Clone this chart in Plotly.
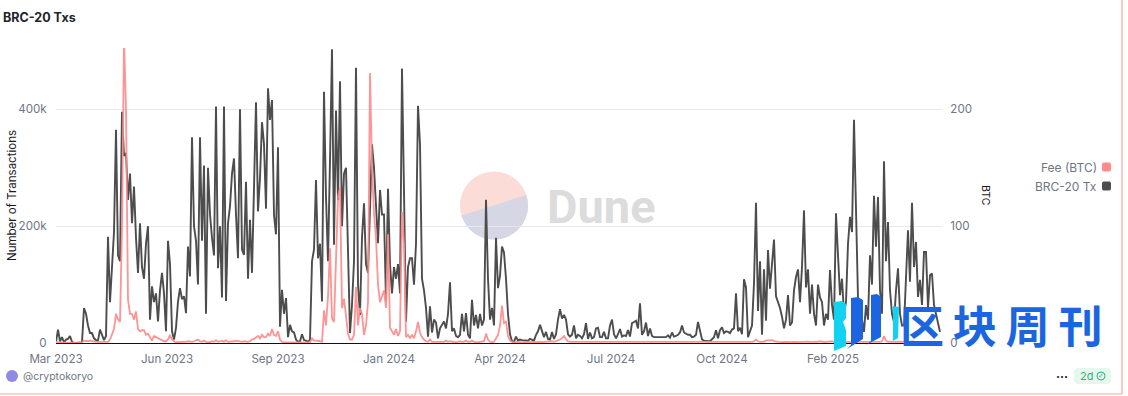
import plotly.graph_objects as go
import numpy as np

# Values. One reading every fixed step along the axis.
tx_2023_spring = [2,23,3,10,1,6,7,12,2,0,0,0,0,1,
    60,50,30,17,17,8,5,4,23,14,5,12,
    182,70,135,190,365,150,140,396,320,325,245,290,205,268,180,120,205,130,110,170,200,40,97,70,85,37,90,120,85,20]
tx_2023_summer = [175,135,20,6,26,71,94,75,80,51,165,114,352,200,175,100,352,175,304,50,
    300,220,180,150,405,128,200,78,405,72,205,234,290,316,220,145,400,160,151,276,
    110,211,120,290,412,225,283,378,340,230,436,382,416,219,186,335]
tx_2023_autumn = [28,91,50,77,10,31,20,18,6,2,3,15,5,4,2,6,140,160,279,145,
    170,71,430,250,140,313,503,168,398,245,448,200,290,300,150,17,65,140,471,100,
    48,180,239,135,120,220,340,300,222,171,262,220,220,71,264]
tx_2024_spring = [135,85,130,110,135,85,470,260,37,130,145,145,100,170,406,340,110,90,60,11,
    63,18,40,35,8,25,30,37,25,50,104,20,25,12,10,14,50,20,51,14,
    8,74,30,48,25,50,30,40,245,110,40,60,30,180,94,115,165,155,110,50,15,3,2]
tx_2024_summer = [11,4,6,5,5,4,4,7,5,4,14,20,31,20,10,19,7,6,19,7,
    15,40,58,42,48,40,15,11,14,30,8,14,12,8,15,34,7,18,8,10,
    25,26,10,10,19,8,8,30,40,15,8,15,24,11,13,12,22]
tx_2024_autumn = [11,34,36,38,25,68,14,20,35,12,25,12,10,10,10,9,9,9,10,13,
    9,18,11,12,14,18,30,18,16,14,14,10,11,14,36,18,6,4,3,3,
    3,7,10,22,8,22,27,17,20,19,17,23,25,85,20,26]
tx_2024_winter = [15,109,95,10,20,30,102,240,55,140,14,126,38,159,93,130,177,80,70,60,
    45,25,40,82,30,35,90,113,126,70,130,227,95,126,50,100,50,30,100,78,
    70,30,50,40,125,65,40]
tx_2025 = [222,150,82,110,50,70,170,216,190,382,210,76,50,40,19,65,40,150,100,252,
    165,250,90,50,311,140,207,90,50,36,90,128,50,30,30,130,193,105,240,130,
    173,79,108,65,156,156,60,116,119,65,50,30,19]

fee_2023_spring = [1,0.5,0.3,0.3,0.3,0.3,0.3,0.3,0.3,0.3,0.3,0.3,0.3,0.5,
    2,1.5,1.5,2,1.5,1.5,1,1,1,0.5,0.5,0.5,
    1,3,7,12,25,20,18,100,260,200,37,25,25,20,27,12,10,11,11,7,8,5,2,6,5,4,3,2.5,1.5,1.5]
fee_2023_summer = [3,7,3,1.5,0.5,1,0.5,1,0.8,1,1.5,1,1,1.5,2,3,1.5,1,2,1,
    0.8,0.8,1.5,1,2.5,1,1.5,2,1,2.5,1,1,1.5,1.5,2,1.5,1,1,1.5,1,
    1,1.5,3,3.5,5,6,4,7,5,5,8,6,12,7,6,10]
fee_2023_autumn = [3,1,0.5,0.5,0.4,0.5,0.5,0.4,0.5,0.4,0.5,0.5,0.4,0.5,0.5,0.5,4,2,2,2,1.5,1,
    28,15,40,81,21,18,75,125,133,30,38,25,8,3,3,7,48,15,30,25,7,15,35,231,150,111,90,50,35,40,45,30,93]
fee_2024_spring = [13,10,7,12,6,10,112,85,5,7,4,7,4,10,18,9,5,3,1.5,1,
    3,1,1,1.5,1,1,1.5,1,2,1,1.5,1,1,0.5,1,1.5,1,1,2,1,
    1,2,1,0.5,0.5,1,1,1.5,8,3,1,0.5,1,4,7,15,32,17,18,6,2,1,0.5]
fee_2024_summer = [0.8,1,0.8,0.6,1,1,0.8,1.2,1,0.8,1,1.2,1,0.8,1,1.4,1,1.2,1.5,1,
    1.5,2,3,4,6,3,1.5,1,1,1.2,1,0.8,1,1.2,1,0.8,1,1,1.2,0.8,
    1,1.2,1,0.8,0.8,1,1.2,1,0.8,1,1,0.8,1,1.2,1,0.8,1]
fee_2024_autumn = [0.8,0.7,0.8,0.6,0.7,0.8,0.7,0.9,0.7,0.6,0.8,0.7,0.6,0.7,0.8,0.6,0.7,0.8,0.7,0.6,
    0.7,0.8,0.7,0.6,0.7,0.8,0.7,0.8,0.7,0.6,0.7,0.6,0.7,0.8,0.7,0.6,0.7,0.6,0.7,0.6,
    0.7,0.8,0.7,0.6,0.7,0.8,0.7,0.6,0.7,0.8,0.7,0.7,0.8,0.9,0.8,0.8]
fee_2024_winter = [0.8,1,0.8,1,0.8,1,1.5,3,1.5,1,1.2,1,2,2.5,2,2.5,1.5,1,1,0.8,
    1,0.8,1,1,0.8,1,1.2,1,0.8,1,1.2,1,1.5,1.2,1,0.8,1,1.2,1,1.5,
    1,0.8,1,1.2,1,1.5,1]
fee_2025 = [1,0.8,1.2,1,0.8,1,1.2,1,1,0.8,1,1.2,1,0.8,1,1.2,1,0.8,1,1.2,
    1,1,1,1.5,6,2,1,1.2,1,0.8,1,1.2,1,1,0.8,1,1.2,1,1.5,1,
    1,0.8,1,1,1.2,1,0.8,1,1,0.8,0.8,0.8,0.7]

tick_positions = [0, 55.5, 111, 166.5, 222, 277.5, 333, 388.5]
tick_labels = ["Mar 2023", "Jun 2023", "Sep 2023", "Jan 2024", "Apr 2024", "Jul 2024", "Oct 2024", "Feb 2025"]
left_ticks = [0, 200, 400]
left_labels = ["0", "200k", "400k"]
right_ticks = [0, 100, 200]

tx = tx_2023_spring + tx_2023_summer + tx_2023_autumn + tx_2024_spring + tx_2024_summer + tx_2024_autumn + tx_2024_winter + tx_2025
fee = fee_2023_spring + fee_2023_summer + fee_2023_autumn + fee_2024_spring + fee_2024_summer + fee_2024_autumn + fee_2024_winter + fee_2025

W, H = 1128, 396
L, R, T, B = 56, 186, 48, 53
PW, PH = W - L - R, H - T - B
FONT = "Inter, Roboto, sans-serif"
GRAY = "#6f7682"
RED = "#ff8b8b"
DARK = "#4d4d4d"
TICK = 11.6

def px(x):
    return (x - L) / PW
def py(y):
    return (H - B - y) / PH
def path(points):
    return "M" + " L".join(f"{px(a):.5f},{py(b):.5f}" for a, b in points) + " Z"
def shape(points, color, layer="above"):
    return dict(type="path", xref="paper", yref="paper", path=path(points),
                fillcolor=color, line=dict(width=0), layer=layer)
def disc(cx, cy, r, color, layer="above", lw=0, lc=None):
    return dict(type="circle", xref="paper", yref="paper", x0=px(cx - r), x1=px(cx + r),
                y0=py(cy + r), y1=py(cy - r), fillcolor=color, layer=layer,
                line=dict(width=lw, color=lc or color))
def text(x, y, s, size=12, color=GRAY, anchor="left", family=FONT, angle=0):
    return dict(xref="paper", yref="paper", x=px(x), y=py(y), text=s, showarrow=False,
                xanchor=anchor, yanchor="middle", textangle=angle,
                font=dict(size=size, color=color, family=family))
def rounded(x0, y0, x1, y1, r, n=6):
    pts = []
    for cx, cy, a0 in [(x1 - r, y0 + r, -90), (x1 - r, y1 - r, 0), (x0 + r, y1 - r, 90), (x0 + r, y0 + r, 180)]:
        for a in np.radians(np.linspace(a0, a0 + 90, n)):
            pts.append((cx + r * np.cos(a), cy + r * np.sin(a)))
    return pts

fig = go.Figure()
fig.add_trace(go.Scatter(x=list(range(len(tx))), y=tx, name="BRC-20 Tx", mode="lines",
                         line=dict(color=DARK, width=1.9), yaxis="y"))
fig.add_trace(go.Scatter(x=list(range(len(fee))), y=fee, name="Fee (BTC)", mode="lines",
                         line=dict(color=RED, width=1.8), opacity=0.92, yaxis="y2"))

# Dune watermark disc: pale upper part, grey-blue lower part
cx, cy, r = 494, 205.5, 34
ang = np.radians(np.linspace(-18, 163, 60))
lower = [(cx + r * np.cos(a), cy + r * np.sin(a)) for a in ang]
shapes = [disc(cx, cy, r, "#fbdcd6", "below"), shape(lower, "#d6d7e5", "below")]

# logo bars
shapes += [
    shape([(834, 302), (842, 301), (846, 304), (846, 318), (843, 322), (846, 330), (846, 346), (834, 351)], "#12d2f2"),
    shape([(851, 298), (858, 297), (863, 300), (863, 339), (847, 349), (851, 345)], "#1b66e0"),
    shape([(871, 295), (877, 294), (881, 297), (881, 337), (866, 345), (871, 341)], "#1b66e0"),
    shape([(893, 306), (899, 307), (898, 338), (893, 341)], "#12d2f2"),
]
# legend swatches, footer
shapes += [
    shape(rounded(1102, 162.5, 1111, 171.5, 2), RED),
    shape(rounded(1102, 181.5, 1111, 190.5, 2), DARK),
    disc(12, 376, 6, "#8d8be6"),
    shape(rounded(1074, 368, 1111, 384, 4), "#e6f7ef"),
    disc(1101, 376, 4, "rgba(0,0,0,0)", lw=1, lc="#2fb57a"),
    dict(type="line", xref="paper", yref="paper", x0=px(0), x1=px(1122), y0=py(394), y1=py(394),
         line=dict(color="#f4a99c", width=1.2)),
    dict(type="line", xref="paper", yref="paper", x0=px(1122), x1=px(1122), y0=py(0), y1=py(394),
         line=dict(color="#f4a99c", width=1.2)),
]

annotations = [
    text(1, 17, "<b>BRC-20 Txs</b>", size=12.5, color="#1f2328"),
    text(12, 196, "Number of Transactions", size=11.5, color="#17191c", angle=-90, anchor="center"),
    text(986, 196, "BTC", size=10.5, color="#17191c", angle=90, anchor="center"),
    text(1099, 167, "Fee (BTC)", anchor="right", size=12),
    text(1099, 186, "BRC-20 Tx", anchor="right", size=12),
    text(21, 376, "@cryptokoryo", size=10.5),
    text(1062, 374, "<b>...</b>", size=12, color="#1f2328", anchor="center"),
    text(1078, 376, "2d", size=11, color="#2fb57a"),
    text(1101, 376, "✓", size=7, color="#2fb57a", anchor="center", family="DejaVu Sans"),
    text(601, 206, "<b>Dune</b>", size=47, color="#dcdcdc", anchor="center", family="Roboto, sans-serif"),
    text(1001, 324, "<b>区\u2009块\u2009周\u2009刊</b>", size=44, color="#1b66e0", anchor="center", family="Noto Sans CJK SC"),
]

fig.update_layout(
    width=W, height=H, margin=dict(l=L, r=R, t=T, b=B),
    paper_bgcolor="white", plot_bgcolor="white", showlegend=False,
    font=dict(family=FONT, size=12, color=GRAY),
    xaxis=dict(range=[0, 443], tickmode="array", tickvals=tick_positions, ticktext=tick_labels,
               showgrid=False, zeroline=False, showline=True, linecolor="#111111", linewidth=1,
               ticks="outside", ticklen=5, tickcolor="rgba(0,0,0,0)", tickfont=dict(size=TICK, color=GRAY)),
    yaxis=dict(range=[0, 505], tickmode="array", tickvals=left_ticks, ticktext=left_labels,
               showgrid=True, gridcolor="#e7e7ec", gridwidth=1, zeroline=False,
               ticks="outside", ticklen=6, tickcolor="rgba(0,0,0,0)", tickfont=dict(size=TICK, color=GRAY)),
    yaxis2=dict(range=[0, 252.5], overlaying="y", side="right", tickmode="array", tickvals=right_ticks,
                showgrid=False, zeroline=False, ticks="outside", ticklen=5, tickcolor="rgba(0,0,0,0)",
                tickfont=dict(size=TICK, color=GRAY)),
    shapes=shapes, annotations=annotations,
)

fig.write_html("out.html", config=dict(displayModeBar=False),
               post_script="document.body.style.margin='0';document.body.style.overflow='hidden';")
